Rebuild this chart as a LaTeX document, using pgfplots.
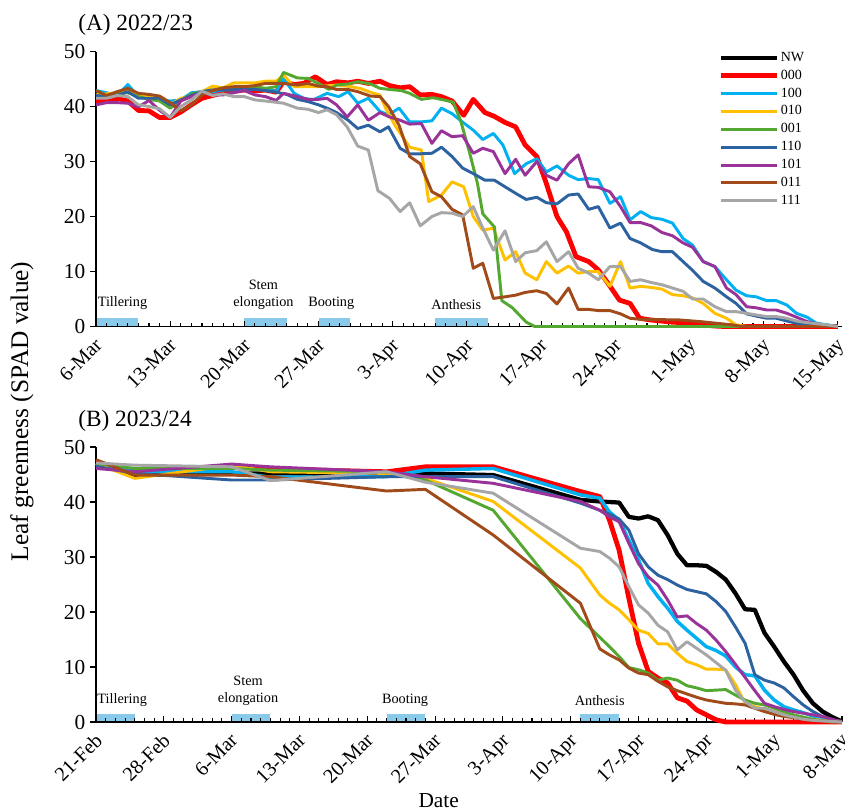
\documentclass[border=0pt]{standalone}
\usepackage{fontspec}
\setmainfont{Liberation Serif}
\usepackage{pgfplots}
\pgfplotsset{compat=1.18}
\definecolor{cRed}{RGB}{255,0,0}
\definecolor{cCyan}{RGB}{0,176,240}
\definecolor{cYel}{RGB}{255,192,0}
\definecolor{cGreen}{RGB}{84,168,50}
\definecolor{cBlue}{RGB}{44,98,160}
\definecolor{cPurp}{RGB}{153,51,153}
\definecolor{cBrown}{RGB}{160,75,25}
\definecolor{cGray}{RGB}{166,166,166}
\definecolor{phase}{RGB}{137,202,234}
\tikzset{plab/.style={font=\fontsize{10.7}{12.75}\selectfont, align=center}}
\pgfplotsset{
  panel/.style={
    scale only axis, width=559.5pt, height=206.25pt,
    ymin=0, ymax=50, ytick={0,10,...,50},
    axis x line*=bottom, axis y line*=left,
    axis line style={line width=1.1pt, black},
    xtick align=inside, ytick align=outside,
    major tick length=4.5pt, minor tick length=3pt,
    every tick/.style={black, line width=0.8pt},
    minor x tick num=6,
    yticklabel style={font=\fontsize{16}{18}\selectfont},
    xticklabel style={font=\fontsize{15.2}{17}\selectfont, rotate=45, anchor=north east, inner sep=1pt, xshift=-5.5pt, yshift=-3pt},
    /pgf/number format/assume math mode=true,
    clip=false, set layers,
    legend image code/.code={\draw[##1] (0pt,0pt) -- (42pt,0pt);},
  },
  s/.style={line width=2.2pt, line join=round},
  bar/.style={forget plot, draw=none, fill=phase, on layer=axis background},
}
\begin{document}
\begin{tikzpicture}
\node[anchor=west, inner sep=0pt, font=\fontsize{17.5}{20}\selectfont] at (58.5pt,-18.75pt) {(A) 2022/23};
\node[anchor=west, inner sep=0pt, font=\fontsize{17.5}{20}\selectfont] at (58.5pt,-315.75pt) {(B) 2023/24};
\node[rotate=90, inner sep=0pt, font=\fontsize{19}{20}\selectfont] at (16.5pt,-308.5pt) {Leaf greenness (SPAD value)};
\node[inner sep=0pt, font=\fontsize{16}{18}\selectfont] at (329pt,-600.75pt) {Date};
% ---------------- Panel A ----------------
\begin{axis}[panel, at={(72pt,-244.875pt)}, anchor=south west,
  xmin=0, xmax=70.4, xtick={0,7,...,70},
  xticklabels={6-Mar,13-Mar,20-Mar,27-Mar,3-Apr,10-Apr,17-Apr,24-Apr,1-May,8-May,15-May},
  legend style={at={(0.835,1.003)}, anchor=north west, draw=none, fill=none,
    inner sep=0pt, outer sep=0pt, font=\fontsize{10.5}{12}\selectfont, row sep=2.6pt,
    nodes={inner sep=0.8pt, text height=7.2pt, text depth=2pt}},
  legend cell align=left]
\addplot[bar] coordinates {(0,1.6)(4,1.6)} \closedcycle;
\addplot[bar] coordinates {(14,1.6)(18,1.6)} \closedcycle;
\addplot[bar] coordinates {(21,1.6)(24,1.6)} \closedcycle;
\addplot[bar] coordinates {(32,1.6)(37,1.6)} \closedcycle;
\addlegendimage{black, line width=2.6pt}
\addlegendentry{NW}
\addplot[s, cRed, line width=3.6pt] coordinates {(0,41.0)(1,41.2)(2,41.5)(3,41.0)(4,39.3)(5,39.2)(6,38.0)(7,38.0)(8,39.0)(9,40.3)(10,41.5)(11,42.0)(12,42.5)(13,42.8)(14,43.0)(15,42.8)(16,43.0)(17,42.6)(17.7,44.5)(18.7,44.0)(19.6,44.2)(20.7,45.4)(21.8,44.0)(22.7,44.5)(23.8,44.3)(24.7,44.6)(25.7,44.2)(26.8,44.6)(27.7,43.8)(28.7,43.4)(29.6,43.6)(30.6,42.1)(31.7,42.2)(32.6,41.8)(33.6,41.0)(34.7,38.4)(35.6,41.3)(36.7,38.9)(37.6,38.2)(38.6,37.1)(39.6,36.3)(40.5,33.0)(41.6,30.9)(42.5,26.0)(43.5,20.0)(44.4,17.2)(45.3,12.7)(46.5,11.8)(47.4,10.3)(48.3,7.9)(49.4,4.8)(50.4,4.2)(51.3,1.5)(52.3,1.2)(53.3,1.0)(54.3,0.8)(55.3,0.7)(56.3,0.5)(57.3,0.3)(58.3,0.1)(59.3,0)(70,0)};
\addlegendentry{000}
\addplot[s, cCyan] coordinates {(0,42.9)(1,42.5)(2,42.0)(3,44.0)(4,41.8)(5,41.8)(6,41.2)(7,41.0)(8,41.2)(9,42.5)(10,42.7)(11,42.7)(12,43.0)(13,43.0)(14,43.2)(15,43.2)(16,43.3)(17,42.7)(17.7,45.1)(18.7,42.4)(19.6,41.5)(20.5,41.2)(21.8,42.4)(22.9,41.8)(23.8,42.7)(24.7,40.6)(25.7,41.5)(26.8,39.1)(27.6,38.5)(28.6,39.7)(29.6,37.2)(30.7,37.2)(31.7,37.4)(32.6,39.7)(33.6,38.7)(34.7,37.0)(35.6,35.7)(36.5,34.0)(37.5,35.1)(38.4,33.0)(39.5,27.8)(40.6,29.6)(41.6,30.5)(42.5,28.1)(43.5,29.2)(44.6,27.5)(45.5,26.7)(46.5,26.9)(47.4,26.7)(48.5,22.4)(49.5,23.6)(50.4,19.4)(51.4,20.9)(52.4,19.8)(53.4,19.5)(54.4,18.8)(55.4,16.0)(56.3,14.8)(57.3,11.8)(58.4,10.9)(59.5,8.5)(60.4,6.6)(61.4,5.6)(62.3,5.4)(63.3,4.7)(64.2,4.7)(65.2,3.9)(66.1,2.4)(67.1,1.7)(68,0.6)(69,0.3)(70,0)};
\addlegendentry{100}
\addplot[s, cYel] coordinates {(0,42.1)(1,42.3)(2,42.5)(3,43.0)(4,42.0)(5,41.8)(6,41.2)(7,40.3)(8,41.5)(9,41.8)(10,42.7)(11,43.7)(12,43.4)(13,44.3)(14,44.3)(15,44.3)(16,44.6)(17,44.6)(17.7,45.7)(18.7,43.6)(20.8,43.6)(22.7,43.9)(23.8,43.7)(24.9,43.3)(26.2,42.4)(26.8,42.1)(27.4,39.4)(28.3,36.3)(29.6,32.6)(30.7,32.1)(31.4,22.7)(32.6,23.9)(33.6,26.3)(34.7,25.4)(35.6,20.0)(36.5,17.5)(37.5,17.9)(38.6,12.1)(39.6,13.6)(40.5,9.7)(41.6,8.5)(42.5,11.8)(43.5,9.7)(44.6,11.0)(45.5,9.7)(46.5,10.0)(47.4,10.0)(48.5,7.3)(49.5,11.8)(50.4,7.0)(51.4,7.3)(52.4,7.1)(53.4,6.8)(54.4,5.8)(55.4,5.6)(56.3,5.2)(57.3,4.2)(58.4,2.4)(59.5,1.5)(60.4,0.3)(61.4,0)(70,0)};
\addlegendentry{010}
\addplot[s, cGreen] coordinates {(0,41.8)(1,42.0)(2,42.3)(3,42.5)(4,41.8)(5,41.3)(6,41.0)(7,39.7)(8,41.0)(9,42.3)(10,42.7)(11,43.0)(12,43.3)(13,43.3)(14,43.6)(15,43.6)(16,43.3)(17,43.6)(17.7,46.2)(19,45.2)(20,45.1)(21,44.2)(22,43.1)(22.7,43.9)(23.8,44.1)(24.7,44.5)(25.9,44.1)(26.8,43.3)(27.7,43.1)(28.8,42.9)(29.6,42.4)(30.7,41.3)(31.8,41.6)(32.8,41.2)(33.7,40.8)(34.4,37.5)(35.2,32.0)(36,26.0)(36.5,20.5)(37.6,18.1)(38.3,4.7)(39.3,3.4)(40.6,0.8)(41.4,0)(70,0)};
\addlegendentry{001}
\addplot[s, cBlue] coordinates {(0,42.0)(1,41.8)(2,42.0)(3,42.7)(4,41.5)(5,41.5)(6,41.5)(7,40.3)(8,41.2)(9,42.0)(10,42.7)(11,43.0)(12,43.0)(13,43.1)(14,43.1)(15,43.1)(16,42.9)(17,42.6)(18,42.2)(19,41.3)(20,40.9)(21,40.3)(21.8,39.7)(22.7,38.9)(23.8,37.5)(24.7,36.0)(25.7,36.6)(26.8,35.4)(27.6,36.3)(28.7,32.4)(29.6,31.4)(30.6,31.4)(31.7,31.5)(32.6,32.6)(33.6,30.9)(34.6,28.8)(35.6,27.8)(36.7,26.6)(37.6,26.6)(38.6,25.4)(39.7,24.1)(40.6,23.1)(41.6,23.5)(42.5,22.5)(43.5,22.3)(44.6,23.9)(45.5,24.1)(46.5,21.3)(47.4,21.8)(48.5,17.9)(49.5,18.8)(50.4,16.0)(51.4,15.2)(52.5,14.0)(53.4,13.6)(54.4,13.6)(55.4,11.8)(56.3,10.2)(57.3,8.2)(58.4,7.0)(59.5,5.4)(60.4,4.2)(61.4,2.3)(62.3,1.9)(63.3,1.5)(64.2,1.5)(65.2,1.0)(66.1,0.6)(67.1,0.3)(68,0)(70,0)};
\addlegendentry{110}
\addplot[s, cPurp] coordinates {(0,40.3)(1,40.7)(2,40.7)(3,40.6)(4,39.9)(5,41.1)(6,39.3)(7,38.0)(8,41.0)(9,41.8)(10,42.5)(11,42.1)(12,42.1)(13,42.5)(14,42.9)(15,42.1)(16,41.8)(17,41.1)(17.7,42.4)(19,41.8)(20,41.3)(21,41.3)(21.8,41.5)(22.7,40.3)(23.7,38.1)(24.7,40.3)(25.7,37.5)(26.8,38.9)(27.7,38.1)(28.7,37.5)(29.6,36.8)(30.7,36.9)(31.7,33.3)(32.6,35.6)(33.6,34.5)(34.6,34.7)(35.6,31.5)(36.5,32.4)(37.5,31.8)(38.6,27.8)(39.6,30.4)(40.5,27.5)(41.6,30.0)(42.5,27.5)(43.5,26.6)(44.6,29.6)(45.5,31.2)(46.5,25.4)(47.4,25.3)(48.5,24.5)(49.5,21.8)(50.4,18.9)(51.4,18.9)(52.4,18.3)(53.4,17.1)(54.4,16.5)(55.4,15.2)(56.3,14.4)(57.3,11.8)(58.4,10.9)(59.5,7.0)(60.4,5.8)(61.4,3.6)(62.3,3.4)(63.3,3.0)(64.2,3.0)(65.2,2.4)(66.1,1.7)(67.1,0.9)(68,0.5)(69,0)(70,0)};
\addlegendentry{101}
\addplot[s, cBrown] coordinates {(0,42.9)(1,42.0)(2,42.7)(3,43.3)(4,42.4)(5,42.2)(6,41.9)(7,40.7)(8,39.2)(9,40.3)(10,42.1)(11,42.9)(12,43.4)(13,43.6)(14,43.6)(15,43.8)(16,44.2)(17.7,44.2)(19,43.9)(20,44.2)(21,43.7)(21.8,43.6)(22.7,43.1)(23.8,43.1)(24.7,42.7)(25.9,41.9)(26.8,41.8)(27.6,40.0)(28.6,36.6)(29.6,30.9)(30.6,29.6)(31.7,24.5)(32.6,23.6)(33.6,21.3)(34.6,20.3)(35.6,10.6)(36.5,11.5)(37.5,5.1)(38.6,5.4)(39.6,5.7)(40.5,6.2)(41.6,6.5)(42.5,6.0)(43.5,4.1)(44.6,7.0)(45.5,3.1)(46.5,3.1)(47.4,2.9)(48.5,2.9)(49.5,2.3)(50.4,1.5)(51.4,1.3)(55,1.2)(57,0.9)(59,0.5)(60,0.3)(61,0)(70,0)};
\addlegendentry{011}
\addplot[s, cGray] coordinates {(0,41.5)(1,41.5)(2,42.0)(3,41.8)(4,40.3)(5,40.0)(6,39.6)(7,38.0)(8,40.0)(9,41.2)(10,42.8)(11,42.0)(12,42.3)(13,41.8)(14,41.8)(15,41.2)(16,41.0)(17.7,40.6)(19,39.7)(20,39.5)(21,38.9)(21.8,39.4)(22.7,38.5)(23.7,36.3)(24.7,32.8)(25.7,32.1)(26.6,24.7)(27.7,23.3)(28.7,20.9)(29.6,22.5)(30.6,18.3)(31.7,20.0)(32.6,20.7)(33.6,20.6)(34.6,20.0)(35.6,21.8)(36.5,17.9)(37.5,13.9)(38.6,17.4)(39.6,11.8)(40.5,13.4)(41.6,13.8)(42.5,15.4)(43.5,11.8)(44.6,13.6)(45.5,10.6)(46.5,9.7)(47.4,8.5)(48.5,10.9)(49.5,10.9)(50.4,8.2)(51.4,8.5)(52.4,8.0)(53.4,7.6)(54.4,7.0)(55.4,6.4)(56.3,5.0)(57.3,5.0)(58.4,3.6)(59.5,2.7)(60.4,2.7)(61.4,2.4)(62.3,2.1)(63.3,1.8)(64.2,1.8)(65.2,1.5)(66.1,1.0)(67.1,0.7)(68,0.5)(69,0.3)(70,0)};
\addlegendentry{111}
\node[plab] at (axis cs:2.5,4.3) {Tillering};
\node[plab] at (axis cs:15.8,5.8) {Stem\\elongation};
\node[plab] at (axis cs:22.2,4.3) {Booting};
\node[plab] at (axis cs:34.0,3.9) {Anthesis};
\end{axis}
% ---------------- Panel B ----------------
\begin{axis}[panel, at={(72pt,-541.5pt)}, anchor=south west,
  xmin=0, xmax=77, xtick={0,7,...,77},
  xticklabels={21-Feb,28-Feb,6-Mar,13-Mar,20-Mar,27-Mar,3-Apr,10-Apr,17-Apr,24-Apr,1-May,8-May}]
\addplot[bar] coordinates {(0,1.5)(4,1.5)} \closedcycle;
\addplot[bar] coordinates {(14,1.5)(18,1.5)} \closedcycle;
\addplot[bar] coordinates {(30,1.5)(34,1.5)} \closedcycle;
\addplot[bar] coordinates {(50,1.5)(54,1.5)} \closedcycle;
\addplot[s, black, line width=3.2pt] coordinates {(0,47.0)(4,44.9)(14,45.2)(18,45.2)(30,45.1)(34,45.2)(41,44.9)(50,40.4)(52,40.1)(53,40.0)(54,39.9)(55,37.3)(56,37.0)(57,37.4)(58,36.7)(59,34.0)(60,30.6)(61,28.5)(62,28.5)(63,28.4)(64,27.3)(65,25.9)(66,23.4)(67,20.5)(68,20.4)(69,16.2)(70,13.7)(71,11.0)(72,8.6)(73,5.7)(74,3.4)(75,1.9)(76,0.9)(77,0.1)};
\addplot[s, cRed, line width=3.6pt] coordinates {(0,47.2)(4,45.8)(14,46.4)(18,46.0)(30,45.5)(34,46.4)(41,46.4)(50,41.9)(52,41.0)(53,36.7)(54,31.2)(55,22.5)(56,14.3)(57,9.2)(58,8.0)(59,7.1)(60,4.4)(61,3.8)(62,2.2)(63,1.3)(64,0.4)(65,0)(77,0)};
\addplot[s, cCyan, line width=2.6pt] coordinates {(0,46.8)(4,45.5)(14,45.5)(18,44.5)(30,44.6)(34,45.8)(41,46.1)(50,41.3)(52,40.7)(53,38.2)(54,36.7)(55,33.1)(56,29.5)(57,25.2)(58,22.8)(59,20.7)(60,18.3)(61,16.7)(62,15.2)(63,13.7)(64,13.0)(65,12.0)(66,10.0)(67,8.6)(68,8.4)(69,5.8)(70,4.0)(71,2.8)(72,2.2)(73,1.7)(74,1.1)(75,0.7)(76,0.3)(77,0)};
\addplot[s, cYel] coordinates {(0,47.0)(4,44.3)(14,46.7)(18,45.5)(30,45.2)(34,44.3)(41,40.1)(50,28.0)(52,23.1)(53,21.6)(54,20.4)(55,18.6)(56,16.7)(57,16.1)(58,14.2)(59,14.2)(60,12.5)(61,11.0)(62,10.4)(63,9.6)(64,9.6)(65,9.5)(66,6.8)(67,3.4)(68,2.8)(69,2.3)(70,1.9)(71,1.4)(72,1.1)(73,0.8)(74,0.5)(75,0.3)(77,0)};
\addplot[s, cGreen] coordinates {(0,47.0)(4,46.1)(14,46.1)(18,45.8)(30,45.5)(34,44.0)(41,38.5)(50,18.8)(52,15.4)(53,13.7)(54,11.9)(55,9.9)(56,9.5)(57,8.9)(58,7.6)(59,8.0)(60,7.6)(61,6.6)(62,6.2)(63,5.7)(64,5.8)(65,5.9)(66,4.9)(67,4.0)(68,3.4)(69,3.1)(70,2.5)(71,1.9)(72,1.3)(73,0.9)(74,0.5)(75,0.2)(76,0)(77,0)};
\addplot[s, cBlue] coordinates {(0,46.5)(4,45.2)(14,44.0)(18,44.0)(30,44.6)(34,44.6)(41,44.6)(50,39.8)(52,38.5)(53,37.8)(54,36.9)(55,34.9)(56,30.6)(57,28.2)(58,26.7)(59,25.9)(60,24.9)(61,24.1)(62,23.7)(63,23.3)(64,21.9)(65,20.1)(66,17.3)(67,14.3)(68,8.6)(69,7.6)(70,7.1)(71,6.2)(72,4.6)(73,3.1)(74,1.9)(75,1.0)(76,0.4)(77,0)};
\addplot[s, cPurp] coordinates {(0,46.1)(4,45.5)(14,46.9)(18,46.4)(30,45.5)(34,44.6)(41,43.4)(50,40.1)(52,38.5)(53,37.3)(54,36.4)(55,32.5)(56,28.8)(57,26.4)(58,24.9)(59,22.2)(60,19.1)(61,19.3)(62,17.9)(63,16.7)(64,14.9)(65,12.8)(66,10.5)(67,8.1)(68,5.7)(69,3.4)(70,2.8)(71,2.3)(72,1.9)(73,1.6)(74,1.3)(75,1.0)(76,0.5)(77,0)};
\addplot[s, cBrown] coordinates {(0,47.7)(4,44.9)(14,44.9)(18,44.6)(30,42.0)(34,42.3)(41,34.0)(50,21.6)(52,13.3)(53,12.2)(54,11.3)(55,9.8)(56,8.9)(57,8.6)(58,7.4)(59,6.4)(60,5.7)(61,5.1)(62,4.5)(63,4.0)(64,3.7)(65,3.4)(66,3.3)(67,3.1)(68,2.5)(69,1.9)(70,1.4)(71,1.0)(72,0.8)(73,0.5)(74,0.3)(77,0)};
\addplot[s, cGray] coordinates {(0,47.1)(4,46.7)(14,46.4)(18,43.9)(30,45.5)(34,43.6)(41,41.6)(50,31.6)(52,31.0)(53,29.8)(54,28.2)(55,24.6)(56,21.3)(57,19.8)(58,17.6)(59,16.4)(60,13.1)(61,14.6)(62,13.4)(63,12.2)(64,10.8)(65,9.4)(66,5.8)(67,3.7)(68,2.5)(69,2.5)(70,1.9)(71,1.3)(72,0.9)(73,0.5)(74,0.3)(77,0)};
\node[plab] at (axis cs:2.7,4.0) {Tillering};
\node[plab] at (axis cs:15.7,5.6) {Stem\\elongation};
\node[plab] at (axis cs:31.9,4.0) {Booting};
\node[plab] at (axis cs:52.0,3.8) {Anthesis};
\end{axis}
\pgfresetboundingbox
\path (0pt,0pt) rectangle (633.75pt,-608.25pt);
\end{tikzpicture}
\end{document}
